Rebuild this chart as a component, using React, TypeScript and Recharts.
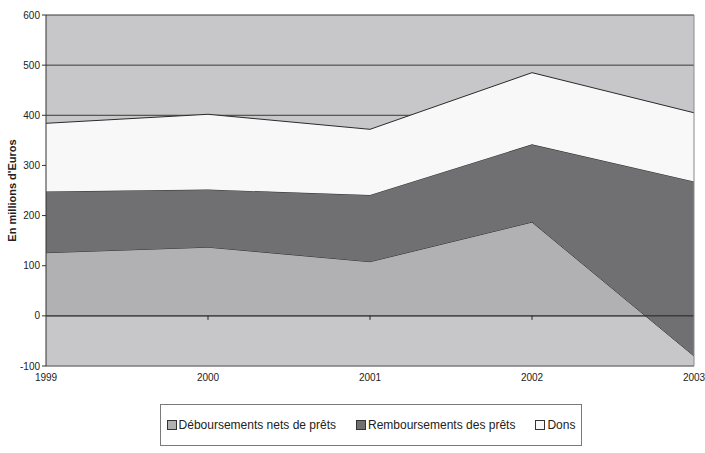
import { AreaChart, Area, XAxis, YAxis, CartesianGrid, ReferenceLine, Legend } from "recharts";

const years = ["1999", "2000", "2001", "2002", "2003"];
const deboursements = [126, 137, 108, 187, -80];
const remboursements = [122, 115, 133, 155, 348];
const dons = [136, 150, 131, 143, 137];
const yTicks = [-100, 0, 100, 200, 300, 400, 500, 600];

const SERIES = [
  { key: "deb", name: "Déboursements nets de prêts", color: "#b1b1b3" },
  { key: "remb", name: "Remboursements des prêts", color: "#707073" },
  { key: "dons", name: "Dons", color: "#f8f8f8" },
];

const data = years.map((year, i) => ({
  year,
  deb: deboursements[i],
  remb: remboursements[i],
  dons: dons[i],
}));

const FONT = "'Liberation Sans', Arial, sans-serif";

const LegendBox = () => (
  <div
    style={{
      width: 422,
      height: 42,
      marginLeft: 160,
      border: "1px solid #7a7a7a",
      display: "flex",
      alignItems: "center",
      justifyContent: "center",
      gap: 20,
      fontFamily: FONT,
      fontSize: 12,
      color: "#222",
      boxSizing: "border-box",
      background: "#fff",
    }}
  >
    {SERIES.map((s) => (
      <span key={s.key} style={{ display: "flex", alignItems: "center" }}>
        <span
          style={{
            display: "inline-block",
            width: 8,
            height: 8,
            background: s.color,
            border: "1px solid #333",
            marginRight: 2,
          }}
        />
        {s.name}
      </span>
    ))}
  </div>
);

export default function App() {
  return (
    <div style={{ position: "absolute", left: 0, top: 0, background: "#fff" }}>
      <AreaChart
        width={705}
        height={453}
        data={data}
        margin={{ top: 15, right: 11, bottom: 0, left: 0 }}
      >
        <CartesianGrid
          vertical={false}
          stroke="#3a3a3a"
          strokeWidth={1}
          fill="#c7c7c9"
          fillOpacity={1}
        />
        <XAxis
          dataKey="year"
          axisLine={false}
          tickLine={false}
          height={45}
          tick={{ fontSize: 10, fill: "#222", fontFamily: FONT }}
          tickMargin={2}
          interval={0}
        />
        <YAxis
          domain={[-100, 600]}
          ticks={yTicks}
          width={46}
          interval={0}
          axisLine={{ stroke: "#333" }}
          tickLine={{ stroke: "#333" }}
          tickSize={4}
          tick={{ fontSize: 10, fill: "#222", fontFamily: FONT }}
          label={{
            value: "En millions d'Euros",
            angle: -90,
            position: "insideLeft",
            offset: 12,
            style: { fontSize: 11, fontWeight: "bold", fill: "#222", fontFamily: FONT, textAnchor: "middle" },
          }}
        />
        {SERIES.map((s) => (
          <Area
            key={s.key}
            type="linear"
            dataKey={s.key}
            name={s.name}
            stackId="total"
            fill={s.color}
            fillOpacity={1}
            stroke="#2a2a2a"
            strokeWidth={1}
            dot={false}
            activeDot={false}
            isAnimationActive={false}
          />
        ))}
        <ReferenceLine y={0} stroke="#222" strokeWidth={1} />
        <ReferenceLine x="2003" stroke="#8a8a8a" strokeWidth={1} />
        <ReferenceLine y={-100} stroke="#9a9a9a" strokeWidth={1} />
        {years.slice(1, 4).map((y) => (
          <ReferenceLine key={y} segment={[{ x: y, y: 0 }, { x: y, y: -8 }]} stroke="#222" />
        ))}
        <Legend
          verticalAlign="bottom"
          wrapperStyle={{ bottom: 7, left: 0, width: 705 }}
          content={() => <LegendBox />}
        />
      </AreaChart>
    </div>
  );
}
